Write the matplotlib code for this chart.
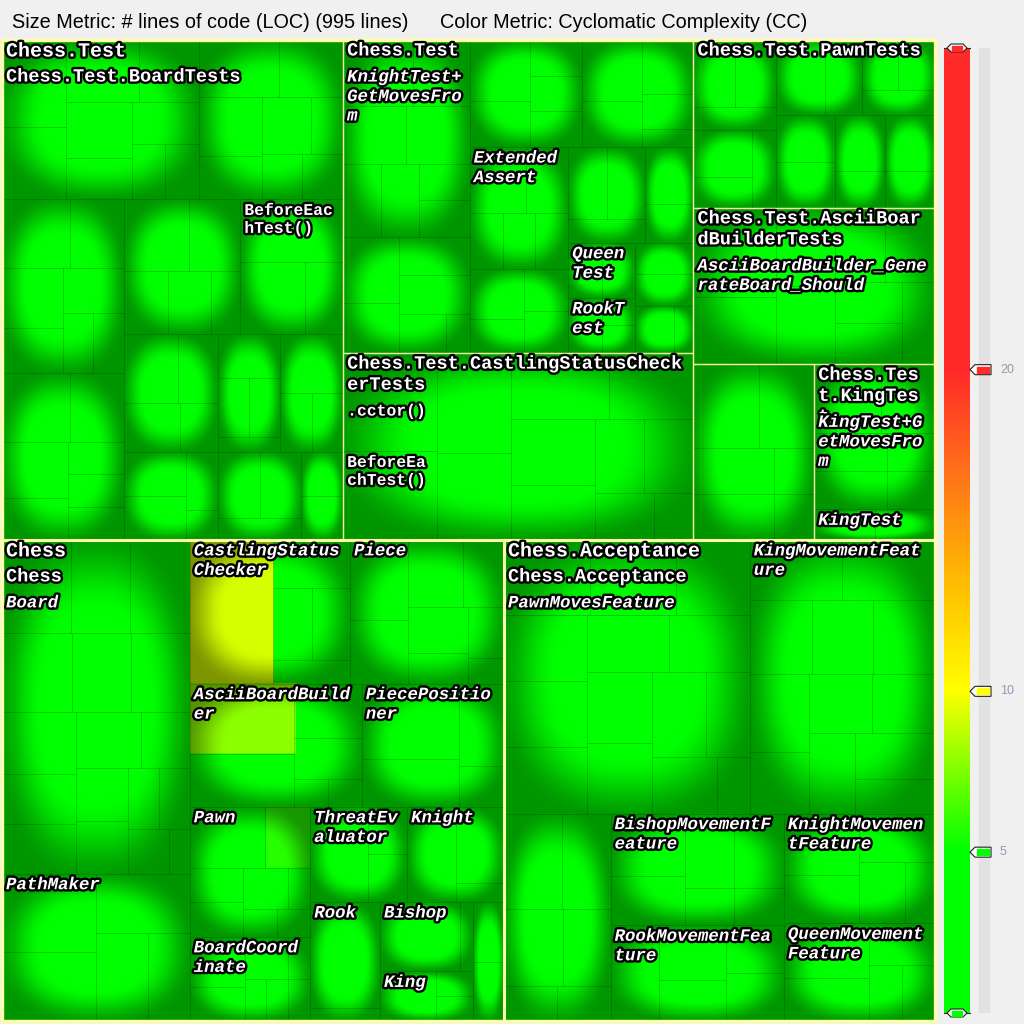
import numpy as np
import matplotlib
matplotlib.use("Agg")
import matplotlib.pyplot as plt
from matplotlib.colors import LinearSegmentedColormap
from matplotlib.patches import Rectangle, Polygon
import matplotlib.patheffects as pe

# ---- data: LOC per method, grouped by type / namespace / assembly ----
total_lines = 995
assemblies = ["Chess.Test", "Chess", "Chess.Acceptance"]

# (assembly index, namespace label) - empty label = not drawn
namespaces = [
    (0, "Chess.Test.BoardTests"),
    (0, "Chess.Test"),
    (0, "Chess.Test.CastlingStatusCheckerTests"),
    (0, "Chess.Test.PawnTests"),
    (0, "Chess.Test.AsciiBoardBuilderTests"),
    (0, ""),
    (0, "Chess.Test.KingTest"),
    (1, "Chess"),
    (2, "Chess.Acceptance"),
]

# (namespace index, type label, method LOC, labels of the first methods)
types = [
    (0, "", [6, 5, 5, 4, 4, 3, 3, 2, 2], []),
    (0, "", [5, 4, 4, 3, 3, 2, 2, 2], []),
    (0, "", [5, 4, 4, 3, 3, 2, 2], []),
    (0, "", [5, 4, 4, 3, 2, 2, 2], []),
    (0, "", [5, 4, 3, 3, 2], []),
    (0, "", [7, 5, 3], ["BeforeEachTest()"]),
    (0, "", [4, 3, 3, 2], []),
    (0, "", [3, 3, 2, 1], []),
    (0, "", [3, 2, 2, 1], []),
    (0, "", [4, 2, 2], []),
    (0, "", [3, 3, 2], []),
    (0, "", [2, 2], []),
    (1, "KnightTest+GetMovesFrom", [5, 4, 4, 4, 3, 3, 2, 2], []),
    (1, "", [4, 3, 3, 3, 2, 1], []),
    (1, "", [4, 3, 2, 2, 2], []),
    (1, "", [4, 3, 3, 2, 1], []),
    (1, "ExtendedAssert", [4, 3, 2, 2, 2], []),
    (1, "", [3, 2, 2, 2], []),
    (1, "", [3, 3, 2], []),
    (1, "", [3, 2], []),
    (1, "QueenTest", [2, 2], []),
    (1, "RookTest", [2, 1, 1], []),
    (1, "", [2, 2], []),
    (1, "", [2, 1], []),
    (2, "", [10, 9, 8, 7, 7, 6, 6, 5, 4, 4, 3, 2], [".cctor()", "BeforeEachTest()"]),
    (3, "", [3, 3, 2], []),
    (3, "", [3, 2, 2], []),
    (3, "", [4, 3], []),
    (3, "", [2, 2, 2], []),
    (3, "", [3, 3], []),
    (3, "", [3, 2], []),
    (3, "", [3, 2], []),
    (4, "AsciiBoardBuilder_GenerateBoard_Should", [8, 6, 5, 5, 4, 4, 3, 3, 3], []),
    (5, "", [6, 5, 4, 4, 2, 2], []),
    (6, "KingTest+GetMovesFrom", [5, 4, 3, 3, 2, 2], []),
    (6, "KingTest", [2, 2], []),
    (7, "Board", [7, 6, 6, 6, 5, 5, 5, 4, 4, 4, 3, 3, 3, 2, 2, 2, 1], []),
    (7, "PathMaker", [8, 7, 6, 5, 4], []),
    (7, "CastlingStatusChecker", [13, 4, 3, 3, 2], []),
    (7, "Piece", [5, 4, 4, 3, 3, 2, 2, 1], []),
    (7, "AsciiBoardBuilder", [8, 6, 4, 3, 1, 1], []),
    (7, "PiecePositioner", [8, 5, 4, 2], []),
    (7, "Pawn", [5, 3, 2, 2, 2, 1, 1, 1], []),
    (7, "BoardCoordinate", [3, 2, 2, 1, 1, 1, 1], []),
    (7, "ThreatEvaluator", [6, 2, 2], []),
    (7, "Knight", [5, 4, 1], []),
    (7, "Rook", [8, 1], []),
    (7, "Bishop", [6, 1], []),
    (7, "King", [3, 1, 1], []),
    (7, "", [2, 2], []),
    (8, "PawnMovesFeature", [7, 7, 6, 6, 6, 6, 5, 5, 5, 5, 5, 4, 4, 2], []),
    (8, "KingMovementFeature", [6, 6, 5, 5, 5, 5, 4, 4, 4, 4, 4, 3], []),
    (8, "", [6, 5, 5, 4, 2, 2], []),
    (8, "BishopMovementFeature", [5, 4, 4, 4, 2, 2], []),
    (8, "RookMovementFeature", [5, 4, 3, 3, 3], []),
    (8, "KnightMovementFeature", [5, 4, 4, 3, 2], []),
    (8, "QueenMovementFeature", [5, 4, 3, 2, 2], []),
]

# cyclomatic complexity of the few non-trivial methods (type, method index)
method_cc = {
    ("CastlingStatusChecker", 0): 9.2,
    ("AsciiBoardBuilder", 0): 7.8,
    ("Pawn", 1): 5.8,
}
default_cc = 2
legend_ticks = [5, 10, 20]
cc_max = 30

cmap = LinearSegmentedColormap.from_list("cc", [
    (0.0, "#00ff00"), (5 / 30, "#00ff00"), (10 / 30, "#ffff00"),
    (13 / 30, "#ffc400"), (16 / 30, "#ff8414"), (20 / 30, "#ff2a2a"),
    (1.0, "#ff2a2a")])


def worst(row, side):
    s = sum(row)
    return max(max(side * side * r / (s * s), s * s / (side * side * r)) for r in row)


def squarify(sizes, x, y, w, h):
    order = sorted(range(len(sizes)), key=lambda k: -sizes[k])
    total = float(sum(sizes))
    areas = [sizes[k] * w * h / total for k in order]
    out = [None] * len(sizes)
    i = 0
    while i < len(order):
        side = min(w, h)
        row = [i]
        j = i + 1
        while j < len(order) and worst([areas[k] for k in row + [j]], side) <= worst([areas[k] for k in row], side):
            row.append(j)
            j += 1
        s = sum(areas[k] for k in row)
        if w > h:
            cw = s / h
            yy = y
            for k in row:
                rh = areas[k] / cw
                out[order[k]] = (x, yy, cw, rh)
                yy += rh
            x += cw
            w -= cw
        else:
            rh = s / w
            xx = x
            for k in row:
                rw = areas[k] / rh
                out[order[k]] = (xx, y, rw, rh)
                xx += rw
            y += rh
            h -= rh
        i = j
    return out


def cushion(nx, ny, p=2.4):
    u = (np.arange(nx) + 0.5) / nx * 2 - 1
    v = (np.arange(ny) + 0.5) / ny * 2 - 1
    U, V = np.meshgrid(u, v)
    d = (np.abs(U) ** p + np.abs(V) ** p) ** (1 / p)
    t = np.clip((d - 0.56) / 0.52, 0, 1)
    t = t * t * (3 - 2 * t)
    return 1 - 0.41 * t


# ---- layout ----
type_sizes = [sum(t[2]) for t in types]
ns_sizes = [sum(type_sizes[i] for i, t in enumerate(types) if t[0] == n) for n in range(len(namespaces))]
asm_sizes = [sum(ns_sizes[n] for n, ns in enumerate(namespaces) if ns[0] == a) for a in range(len(assemblies))]

X0, Y0, W, H = 2, 40, 933, 981
asm_rects = squarify(asm_sizes, X0, Y0, W, H)
ns_rects = [None] * len(namespaces)
for a in range(len(assemblies)):
    idx = [n for n, ns in enumerate(namespaces) if ns[0] == a]
    for n, r in zip(idx, squarify([ns_sizes[n] for n in idx], *asm_rects[a])):
        ns_rects[n] = r
type_rects = [None] * len(types)
for n in range(len(namespaces)):
    idx = [i for i, t in enumerate(types) if t[0] == n]
    for i, r in zip(idx, squarify([type_sizes[i] for i in idx], *ns_rects[n])):
        type_rects[i] = r

fig = plt.figure(figsize=(10.24, 10.24), dpi=100, facecolor="#f0f0f0")
ax = fig.add_axes([0, 0, 1, 1])
ax.set_facecolor("#f0f0f0")

method_rects = []
for i, t in enumerate(types):
    tx, ty, tw, th = type_rects[i]
    mrects = squarify(t[2], tx, ty, tw, th)
    method_rects.append(mrects)
    nx, ny = max(2, int(round(tw))), max(2, int(round(th)))
    img = np.zeros((ny, nx, 3))
    for m, (mx, my, mw, mh) in enumerate(mrects):
        cc = method_cc.get((t[1], m), default_cc)
        col = cmap(cc / cc_max)[:3]
        i0 = int(round((mx - tx) / tw * nx)); i1 = int(round((mx + mw - tx) / tw * nx))
        j0 = int(round((my - ty) / th * ny)); j1 = int(round((my + mh - ty) / th * ny))
        img[j0:j1, i0:i1] = col
    img *= cushion(nx, ny)[..., None]
    ax.imshow(img, extent=(tx, tx + tw, ty + th, ty), interpolation="bilinear",
              aspect="auto", zorder=1)
    for (mx, my, mw, mh) in mrects:
        ax.add_patch(Rectangle((mx, my), mw, mh, fill=False, ec=(0, 0, 0, 0.09), lw=0.7, zorder=2))

for r in ns_rects:
    ax.add_patch(Rectangle(r[:2], r[2], r[3], fill=False, ec="#f2f2a0", lw=0.9, zorder=3))
for r in asm_rects:
    ax.add_patch(Rectangle(r[:2], r[2], r[3], fill=False, ec="#ffffa8", lw=2.2, zorder=4))
ax.add_patch(Rectangle((X0, Y0), W, H, fill=False, ec="#ffffa8", lw=2.4, zorder=4))

# ---- labels ----
# char width px, font size pt, line spacing px, italic
label_styles = [(12.0, 14.4, 21, False), (11.2, 13.4, 21, False),
                (10.4, 12.5, 19.5, True), (9.8, 11.8, 18, False)]
placed = []


def place_label(text, rect, level):
    if not text:
        return
    cw, fs, sp, italic = label_styles[level]
    rx, ry, rw, rh = rect
    n = max(1, int((rw - 10) // cw))
    lines = [text[k:k + n] for k in range(0, len(text), n)]
    lw_px = max(len(l) for l in lines) * cw + 4
    top = ry
    moved = True
    while moved:
        moved = False
        for (px0, px1, py0, py1) in placed:
            if px0 < rx + lw_px and px1 > rx and py0 < top + sp and py1 > top + 0.5:
                top = py1
                moved = True
    placed.append((rx, rx + lw_px, top, top + sp * min(len(lines), 2) + 5))
    for k, line in enumerate(lines):
        ax.text(rx + 4, top + 11 + k * sp, line, fontsize=fs, family="Liberation Mono",
                weight="bold", style="italic" if italic else "normal", color="white",
                va="center", ha="left", zorder=6,
                path_effects=[pe.withStroke(linewidth=3.4, foreground="black")])


for a, name in enumerate(assemblies):
    place_label(name, asm_rects[a], 0)
for n, ns in enumerate(namespaces):
    place_label(ns[1], ns_rects[n], 1)
for i, t in enumerate(types):
    place_label(t[1], type_rects[i], 2)
for i, t in enumerate(types):
    for m, lab in enumerate(t[3]):
        place_label(lab, method_rects[i][m], 3)

ax.text(12, 22, f"Size Metric: # lines of code (LOC) ({total_lines} lines)", fontsize=14.3,
        family="Liberation Sans", va="center", ha="left", color="black")
ax.text(440, 22, "Color Metric: Cyclomatic Complexity (CC)", fontsize=14.3,
        family="Liberation Sans", va="center", ha="left", color="black")

ax.set_xlim(0, 1024)
ax.set_ylim(1024, 0)
ax.axis("off")

# ---- colour legend ----
cax = fig.add_axes([940 / 1024, 11 / 1024, 84 / 1024, 965 / 1024])
cax.set_xlim(940, 1024)
cax.set_ylim(0, cc_max)
cax.axis("off")
cax.add_patch(Rectangle((979, 0), 10, cc_max, color="#e2e2e2", zorder=1))
grad = np.linspace(cc_max, 0, 600)[:, None]
cax.imshow(grad, extent=(944, 970, 0, cc_max), cmap=cmap, vmin=0, vmax=cc_max,
           aspect="auto", origin="upper", zorder=2)
unit = cc_max / 965.0
for v in legend_ticks:
    dy = 5 * unit
    cax.add_patch(Polygon([(970, v), (975, v + dy), (991, v + dy), (991, v - dy), (975, v - dy)],
                          closed=True, fc="white", ec="#202020", lw=0.8, zorder=3, clip_on=False))
    cax.add_patch(Rectangle((977, v - 3 * unit), 12, 6 * unit, color=cmap(v / cc_max), zorder=4, clip_on=False))
    cax.text(1000, v, str(v), fontsize=9, family="Liberation Sans", color="#8d9bb8",
             va="center", ha="left")
for v in [cc_max, 0]:
    dy = 4 * unit
    cax.plot([944, 970], [v, v], color="#303030", lw=0.8, zorder=3, clip_on=False)
    cax.add_patch(Polygon([(947, v), (951, v + dy), (963, v + dy), (967, v), (963, v - dy), (951, v - dy)],
                          closed=True, fc="white", ec="#202020", lw=0.8, zorder=4, clip_on=False))
    cax.add_patch(Rectangle((952, v - 2.5 * unit), 10, 5 * unit, color=cmap(v / cc_max), zorder=5, clip_on=False))

fig.savefig("out.png", dpi=100, facecolor=fig.get_facecolor())
